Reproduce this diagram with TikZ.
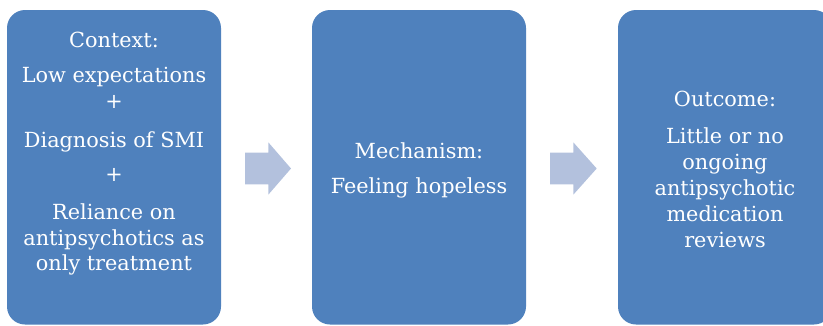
\documentclass[tikz,border=0pt]{standalone}
\usepackage{fontspec}
\setmainfont{DejaVu Serif}
\definecolor{boxblue}{HTML}{4F81BD}
\definecolor{arrowblue}{HTML}{B3C1DD}
\begin{document}
\begin{tikzpicture}[x=1pt,y=-1pt,
  stage/.style={fill=boxblue, rounded corners=18pt, minimum width=214pt,
    minimum height=314.5pt, inner sep=0pt, draw=none},
  lbl/.style={text=white, anchor=base, inner sep=0pt,
    font=\fontsize{20.8}{25}\selectfont},
  flow/.style={fill=arrowblue}]
\useasboundingbox (0,0) rectangle (823,325);
\clip (0,0) rectangle (823,325);

% the three stages
\node[stage] (ctx) at (114,167.25) {};
\node[stage] (mech) at (419,167.25) {};
\node[stage] (out) at (725,167.25) {};

% block arrows between the stages
\fill[flow] (245,152.7) -- (268.3,152.7) -- (268.3,142.3) -- (291,168.5)
  -- (268.3,194.7) -- (268.3,184.3) -- (245,184.3) -- cycle;
\fill[flow] (550,152.7) -- (573.3,152.7) -- (573.3,142.3) -- (596.7,168.5)
  -- (573.3,194.7) -- (573.3,184.3) -- (550,184.3) -- cycle;

% context
\node[lbl] (c1) at (114,47) {Context:};
\node[lbl] (c2) at (114,82) {Low expectations};
\node[lbl] (c3) at (114,108.5) {+};
\node[lbl] (c4) at (114,147) {Diagnosis of SMI};
\node[lbl] (c5) at (114,181.5) {+};
\node[lbl] (c6) at (114,219) {Reliance on};
\node[lbl] (c7) at (114,245) {antipsychotics as};
\node[lbl] (c8) at (114,270) {only treatment};

% mechanism
\node[lbl] (m1) at (419,158) {Mechanism:};
\node[lbl] (m2) at (419,193) {Feeling hopeless};

% outcome
\node[lbl] (o1) at (725,106) {Outcome:};
\node[lbl] (o2) at (725,143) {Little or no};
\node[lbl] (o3) at (725,169) {ongoing};
\node[lbl] (o4) at (725,195) {antipsychotic};
\node[lbl] (o5) at (725,221) {medication};
\node[lbl] (o6) at (725,247) {reviews};
\end{tikzpicture}
\end{document}
